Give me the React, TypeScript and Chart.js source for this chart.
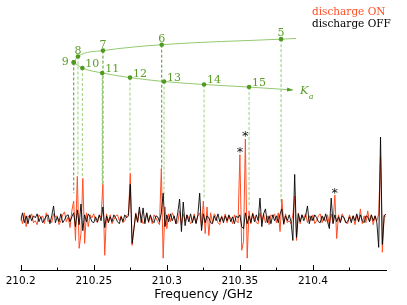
import { useEffect, useRef } from "react";
import { Chart, registerables } from "chart.js";

Chart.register(...registerables);

// ---- spectrum (frequency grid start / step in GHz) ----
const F0 = 210.2;
const STEP = 0.00125;

// discharge ON (orange) intensities, arbitrary units
const ON = [
  0.2, -0.5, 0.6, -0.8, 0.3, 0.1, 0.5, -0.4, -0.2, -0.6,
  0.4, 0.1, 0.3, -0.5, 0.6, -0.3, -0.1, -0.4, 0.5, 0.2,
  0.3, -0.6, -0.2, 0.4, 0.7, -0.3, 0.2, -0.9, 0.8, 1.8,
  -2.2, 4.3, -3.0, -1.5, 4.1, -2.5, 0.6, -0.8, 0.4, 0.1,
  0.5, -0.2, -0.4, 0.3, 0.2, 3.5, -3.7, 0.5, -0.3, 0.4,
  -0.5, -0.1, 0.3, 0.4, -0.2, 0.3, -0.4, -0.2, 0.3, 0.5,
  4.6, -2.7, -1.0, 0.6, -0.4, 0.8, 0.2, -0.5, -0.2, 0.6,
  -0.4, 0.3, -0.5, 0.4, 0.1, -0.3, -0.6, 5.1, -4.0, 1.2,
  -1.0, 0.5, -0.3, 0.6, 0.2, -0.5, -0.4, 0.8, -0.6, 0.5,
  -0.3, 0.4, 0.1, -0.5, -0.3, 0.5, -0.4, 0.3, 0.6, -0.8,
  1.8, -1.5, 1.2, -1.7, 0.6, -0.4, 0.5, 0.2, -0.4, -0.6,
  0.3, -0.2, 0.5, -0.4, 0.3, 0.1, -0.5, 0.4, -0.2, -0.4,
  6.5, -3.2, -2.3, 8.1, -4.0, 0.8, -0.5, 0.6, 0.1, -0.4,
  -0.5, 0.6, -0.3, 0.5, -0.4, 0.3, -0.6, 0.4, 0.2, 0.5,
  -0.4, 0.6, -1.3, 2.0, -0.6, 0.5, -0.4, -0.2, -0.5, 0.4,
  2.3, -2.2, 0.6, -0.5, 0.4, 0.1, 0.5, -0.4, 0.3, -0.2,
  0.4, -0.5, -0.2, 0.3, 0.5, -0.4, 0.2, -0.3, 0.4, -0.6,
  0.5, -0.4, 2.4, -2.0, 0.4, -0.3, 0.5, 0.1, -0.4, -0.5,
  0.4, -0.2, 0.3, -0.6, 0.4, -0.3, 1.0, -0.5, 0.3, -0.4,
  0.8, -0.3, 0.4, -0.6, 0.3, -0.2, 0.5, 6.3, -3.4, 0.4,
  0.2,
];

// discharge OFF (black) intensities
const OFF = [
  -0.2, 0.6, -0.4, 0.3, -0.5, 0.4, -0.2, 0.3, 0.1, 0.5,
  -0.3, 0.2, -0.4, -0.1, 0.3, 0.4, -0.5, 0.3, 1.3, -0.4,
  0.2, -0.3, 0.5, -0.4, -0.1, 0.3, 0.4, -0.3, 0.2, 0.6,
  -0.8, 0.9, -0.6, 1.5, -1.2, 0.4, -0.3, 0.5, 0.2, -0.3,
  -0.4, 0.2, -0.3, 0.4, -0.2, 1.2, -0.9, 0.3, -0.4, 0.2,
  -0.3, 0.4, 0.1, -0.3, -0.5, 0.2, -0.3, 0.4, 0.1, 0.3,
  3.5, -2.5, -1.0, 0.5, -0.3, 1.2, -0.4, 1.1, -0.5, 0.6,
  -0.3, 0.4, -0.2, -0.4, 0.3, 0.2, -0.3, 0.6, 2.6, -0.8,
  0.4, -0.3, 0.5, -0.2, 0.3, -0.5, 0.6, 2.0, -1.3, 1.7,
  -0.7, 0.4, -0.3, 0.5, -0.4, 0.3, -0.5, 0.4, 2.6, -1.2,
  0.5, -0.4, 0.3, 0.1, -0.4, -0.5, 0.3, -0.2, 0.5, -0.3,
  0.2, -0.4, 0.3, -0.2, 0.4, -0.3, 0.2, -0.5, 0.3, 0.1,
  0.4, -0.8, -1.0, 0.6, -0.5, 0.3, -0.4, 0.5, -0.3, 0.4,
  -0.2, 2.1, -0.8, 0.5, 1.0, -0.4, 0.3, -0.5, 0.4, -0.2,
  0.3, -0.4, 0.5, 1.0, -0.5, 0.3, -0.2, 0.4, -0.3, -2.2,
  4.5, -1.9, 0.5, -0.3, 0.4, -0.2, 0.3, 1.3, -0.5, 0.3,
  -0.2, 0.4, 0.1, -0.3, -0.4, 0.3, -0.2, 0.5, -0.3, -1.0,
  2.1, -0.5, 0.4, -0.3, 0.2, -0.4, 0.3, 0.1, -0.4, -0.3,
  0.2, -0.4, 0.3, -0.2, 0.5, -0.3, 0.4, -0.2, -0.4, 0.3,
  0.2, -0.3, 0.4, -0.2, 0.3, -0.4, -2.9, 8.3, -2.6, 0.3,
  0.5,
];

const SERIES_LABELS = ["discharge ON", "discharge OFF"];

// ---- axis ----
const X_MIN = 210.2;
const X_MAX = 210.45;
const Y_MIN = -5.2;
const Y_MAX = 21.8;
const MAJOR_TICKS = [210.2, 210.25, 210.3, 210.35, 210.4];
const MINOR_TICKS = [210.225, 210.275, 210.325, 210.375, 210.425];
const X_TITLE = "Frequency /GHz";

// ---- Ka assignment diagram ----
const UPPER_LABELS = ["9", "8", "7", "6", "5", ""];
const UPPER_X = [210.2363, 210.2392, 210.2563, 210.2965, 210.3782, 210.3884];
const UPPER_Y = [15.87, 16.47, 17.07, 17.67, 18.23, 18.3];
const LOWER_LABELS = ["10", "11", "12", "13", "14", "15", ""];
const LOWER_X = [210.2422, 210.2558, 210.2748, 210.2981, 210.3255, 210.3563, 210.3864];
const LOWER_Y = [15.3, 14.8, 14.33, 13.93, 13.63, 13.37, 13.07];
// lower end of each dashed drop line (order: 9,8,7,6,5,10,11,12,13,14,15)
const DROP_END = [2.6, 4.3, 3.5, 5.1, 1.6, 4.1, 3.5, 4.6, 2.1, 2.0, 1.2];
const BRANCH_LABEL = "K";
const BRANCH_SUB = "a";

// unidentified lines marked with *
const STAR_INDEX = [120, 123, 172];

// styles
const ORANGE = "#ff4f26";
const BLACK = "rgba(0,0,0,0.88)";
const GREEN_TEXT = "#5a9c29";
const GREEN_POINT = "#4f9a1f";
const GREEN_LINE = "#94c96e";
const DROP_COLORS = [
  "#4f9a1f", "#9ad27a", "#4f9a1f", "#4f9a1f", "#8fcd6a",
  "#9ad27a", "#8fcd6a", "#9ad27a", "#9ad27a", "#9ad27a", "#9ad27a",
];

export default function App() {
  const ref = useRef<HTMLCanvasElement>(null);

  useEffect(() => {
    const canvas = ref.current;
    if (!canvas) return;

    const freq = ON.map((_, i) => F0 + i * STEP);
    const onData = ON.map((v, i) => ({ x: freq[i], y: v }));
    const offData = OFF.map((v, i) => ({ x: freq[i], y: v }));
    const upperData = UPPER_X.map((x, i) => ({ x, y: UPPER_Y[i] }));
    const lowerData = [upperData[0], ...LOWER_X.map((x, i) => ({ x, y: LOWER_Y[i] }))];

    const dropX = [...UPPER_X.slice(0, 5), ...LOWER_X.slice(0, 6)];
    const dropTop = [...UPPER_Y.slice(0, 5), ...LOWER_Y.slice(0, 6)];
    const dropSets = dropX.map((x, i) => ({
      type: "line" as const,
      label: "drop" + i,
      data: [
        { x, y: dropTop[i] },
        { x, y: DROP_END[i] },
      ],
      borderColor: DROP_COLORS[i],
      borderWidth: 1,
      borderDash: [3, 2],
      pointRadius: 0,
      order: 6,
    }));

    const upperRadius = UPPER_LABELS.map((t) => (t ? 2.3 : 0));
    const lowerRadius = [2.3, ...LOWER_LABELS.map((t) => (t ? 2.3 : 0))];

    const overlay = {
      id: "overlay",
      afterDraw(chart: any) {
        const { ctx, chartArea, scales } = chart;
        const xs = scales.x;
        const ys = scales.y;
        ctx.save();

        // inward ticks
        ctx.strokeStyle = "#000";
        ctx.lineWidth = 1;
        const yb = chartArea.bottom;
        ctx.beginPath();
        MAJOR_TICKS.forEach((v) => {
          const px = Math.round(xs.getPixelForValue(v)) + 0.5;
          ctx.moveTo(px, yb);
          ctx.lineTo(px, yb - 5);
        });
        MINOR_TICKS.forEach((v) => {
          const px = Math.round(xs.getPixelForValue(v)) + 0.5;
          ctx.moveTo(px, yb);
          ctx.lineTo(px, yb - 2.5);
        });
        ctx.stroke();

        // green labels
        ctx.fillStyle = GREEN_TEXT;
        ctx.font = '11px "DejaVu Serif"';
        UPPER_LABELS.forEach((t, i) => {
          if (!t) return;
          const px = xs.getPixelForValue(UPPER_X[i]);
          const py = ys.getPixelForValue(UPPER_Y[i]);
          if (i === 0) {
            ctx.textAlign = "right";
            ctx.textBaseline = "middle";
            ctx.fillText(t, px - 5, py);
          } else {
            ctx.textAlign = "center";
            ctx.textBaseline = "alphabetic";
            ctx.fillText(t, px, py - 3);
          }
        });
        LOWER_LABELS.forEach((t, i) => {
          if (!t) return;
          const px = xs.getPixelForValue(LOWER_X[i]);
          const py = ys.getPixelForValue(LOWER_Y[i]);
          ctx.textAlign = "left";
          ctx.textBaseline = "alphabetic";
          ctx.fillText(t, px + 3, py - 1);
        });

        // arrow head on the lower branch
        const n = LOWER_X.length - 1;
        const ax = xs.getPixelForValue(LOWER_X[n]);
        const ay = ys.getPixelForValue(LOWER_Y[n]);
        const bx = xs.getPixelForValue(LOWER_X[n - 1]);
        const by = ys.getPixelForValue(LOWER_Y[n - 1]);
        const ang = Math.atan2(ay - by, ax - bx);
        ctx.fillStyle = GREEN_POINT;
        ctx.beginPath();
        ctx.moveTo(ax, ay);
        ctx.lineTo(ax - 6 * Math.cos(ang) + 2 * Math.sin(ang), ay - 6 * Math.sin(ang) - 2 * Math.cos(ang));
        ctx.lineTo(ax - 6 * Math.cos(ang) - 2 * Math.sin(ang), ay - 6 * Math.sin(ang) + 2 * Math.cos(ang));
        ctx.closePath();
        ctx.fill();

        // K_a
        ctx.fillStyle = GREEN_TEXT;
        ctx.textAlign = "left";
        ctx.textBaseline = "alphabetic";
        ctx.font = 'italic 11.5px "DejaVu Serif"';
        ctx.fillText(BRANCH_LABEL, ax + 7, ay + 4.4);
        const kw = ctx.measureText(BRANCH_LABEL).width;
        ctx.font = 'italic 8px "DejaVu Serif"';
        ctx.fillText(BRANCH_SUB, ax + 7 + kw, ay + 9.4);

        // asterisks
        ctx.fillStyle = "#111";
        ctx.font = '13px "DejaVu Sans"';
        ctx.textAlign = "center";
        ctx.textBaseline = "alphabetic";
        STAR_INDEX.forEach((k) => {
          const px = xs.getPixelForValue(freq[k]);
          const py = ys.getPixelForValue(ON[k]);
          ctx.fillText("*", px, py + 1.5);
        });

        // legend
        ctx.font = '10.5px "DejaVu Serif"';
        ctx.textAlign = "left";
        ctx.fillStyle = ORANGE;
        ctx.fillText(SERIES_LABELS[0], 312, 15.3);
        ctx.fillStyle = "#000";
        ctx.fillText(SERIES_LABELS[1], 312, 27.3);

        ctx.restore();
      },
    };

    const chart = new Chart(canvas, {
      type: "line",
      data: {
        datasets: [
          {
            label: SERIES_LABELS[1],
            data: offData,
            borderColor: BLACK,
            borderWidth: 1,
            pointRadius: 0,
            order: 0,
          },
          {
            label: SERIES_LABELS[0],
            data: onData,
            borderColor: ORANGE,
            borderWidth: 1,
            pointRadius: 0,
            order: 1,
          },
          {
            label: "upper",
            data: upperData,
            borderColor: GREEN_LINE,
            backgroundColor: GREEN_POINT,
            pointBackgroundColor: GREEN_POINT,
            pointBorderWidth: 0,
            pointRadius: upperRadius,
            borderWidth: 1,
            cubicInterpolationMode: "monotone",
            order: 2,
          },
          {
            label: "lower",
            data: lowerData,
            borderColor: GREEN_LINE,
            backgroundColor: GREEN_POINT,
            pointBackgroundColor: GREEN_POINT,
            pointBorderWidth: 0,
            pointRadius: lowerRadius,
            borderWidth: 1,
            cubicInterpolationMode: "monotone",
            order: 3,
          },
          ...dropSets,
        ] as any,
      },
      options: {
        responsive: false,
        animation: false,
        devicePixelRatio: 1,
        layout: { padding: { left: 20.7, right: 21, top: 0, bottom: 2.5 } },
        plugins: { legend: { display: false }, tooltip: { enabled: false } },
        scales: {
          x: {
            type: "linear",
            min: X_MIN,
            max: X_MAX,
            grid: { display: false, drawTicks: false },
            border: { display: true, color: "#000", width: 1 },
            afterBuildTicks: (s: any) => {
              s.ticks = MAJOR_TICKS.map((v) => ({ value: v }));
            },
            afterFit: (s: any) => {
              s.height = 32.5;
            },
            ticks: {
              autoSkip: false,
              maxRotation: 0,
              padding: 4.7,
              color: "#000",
              font: { family: '"DejaVu Sans"', size: 10.5 },
              callback: (v: any) => String(Number(Number(v).toFixed(3))),
            },
            title: {
              display: true,
              text: X_TITLE,
              color: "#000",
              font: { family: '"DejaVu Sans"', size: 12.5 },
              padding: { top: 0, bottom: 0 },
            },
          },
          y: { display: false, min: Y_MIN, max: Y_MAX },
        },
      },
      plugins: [overlay],
    });

    return () => chart.destroy();
  }, []);

  return (
    <div style={{ position: "fixed", left: 0, top: 0, width: 407, height: 305, background: "#fff" }}>
      <canvas ref={ref} width={407} height={305} style={{ display: "block" }} />
    </div>
  );
}
